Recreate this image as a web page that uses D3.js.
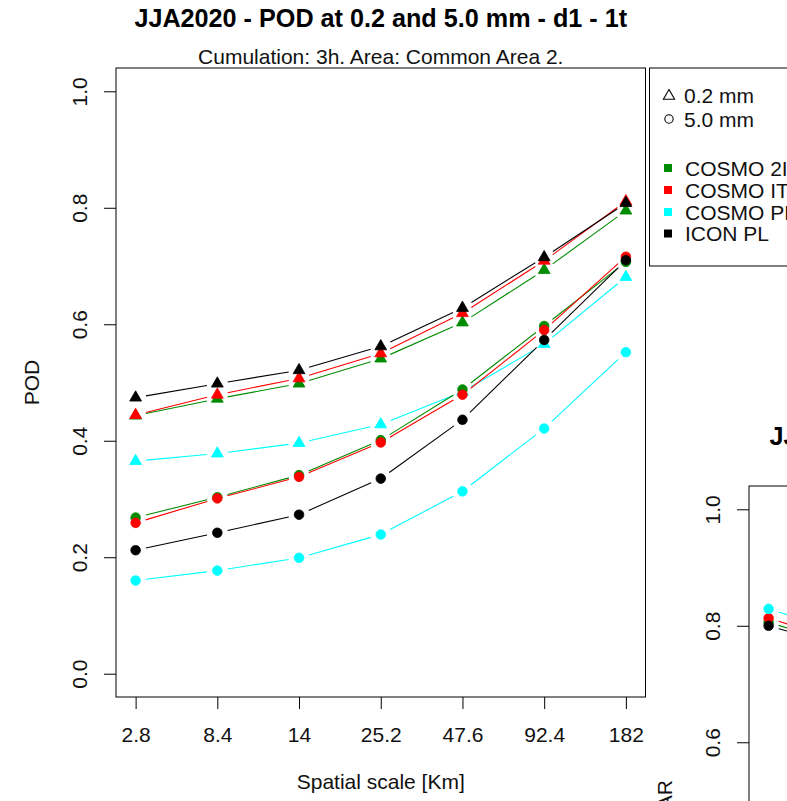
<!DOCTYPE html>
<html>
<head>
<meta charset="utf-8">
<script src="https://cdn.jsdelivr.net/npm/d3@7"></script>
<style>
  html, body { margin: 0; padding: 0; background: #fff; }
  svg { display: block; font-family: "Liberation Sans", Arial, Helvetica, sans-serif; }
</style>
</head>
<body>
<svg id="chart" width="787" height="801"></svg>
<script>
// Spatial scales (km) along the x axis
const scales = ["2.8", "8.4", "14", "25.2", "47.6", "92.4", "182"];
const yTicks = [0, 0.2, 0.4, 0.6, 0.8, 1.0];
const models = ["COSMO 2I", "COSMO IT", "COSMO PL", "ICON PL"];
const modelColors = ["#008B00", "#FF0000", "#00FFFF", "#000000"];
const thresholds = ["0.2 mm", "5.0 mm"];

// POD at 0.2 mm (triangles)
const pod02_cosmo2I = [0.443, 0.472, 0.498, 0.541, 0.603, 0.693, 0.795];
const pod02_cosmoIT = [0.444, 0.479, 0.507, 0.550, 0.619, 0.709, 0.811];
const pod02_cosmoPL = [0.365, 0.378, 0.396, 0.428, 0.484, 0.566, 0.681];
const pod02_iconPL  = [0.474, 0.498, 0.521, 0.562, 0.628, 0.715, 0.808];

// POD at 5.0 mm (circles)
const pod50_cosmo2I = [0.268, 0.303, 0.341, 0.401, 0.488, 0.597, 0.707];
const pod50_cosmoIT = [0.259, 0.301, 0.338, 0.397, 0.479, 0.590, 0.716];
const pod50_cosmoPL = [0.160, 0.177, 0.199, 0.239, 0.313, 0.421, 0.552];
const pod50_iconPL  = [0.212, 0.242, 0.273, 0.335, 0.436, 0.573, 0.710];

// FAR at 5.0 mm, first two scales (neighbouring panel)
const far50_cosmo2I = [0.806, 0.763];
const far50_cosmoIT = [0.813, 0.770];
const far50_cosmoPL = [0.829, 0.785];
const far50_iconPL  = [0.800, 0.760];
const farTicks = [0.6, 0.8, 1.0];

const svg = d3.select("#chart");
const PL = 116, PR = 645.5, PT = 68, PB = 697;
const FS = 21;             // base font size
const GAP = 10.5;          // gap left around each point by the connecting lines
const U = 4.4;             // symbol size unit

function trianglePath(cx, cy, u) {
  const r = 1.555 * u, hw = 1.347 * u, yc = 0.778 * u;
  return `M${cx},${cy - r}L${cx + hw},${cy + yc}L${cx - hw},${cy + yc}Z`;
}

function drawSeries(g, x, y, vals, color, shape) {
  const pts = vals.map((v, i) => [x(i), y(v)]);
  const segs = [];
  for (let i = 0; i < pts.length - 1; i++) {
    const [x0, y0] = pts[i], [x1, y1] = pts[i + 1];
    const dx = x1 - x0, dy = y1 - y0, L = Math.hypot(dx, dy);
    if (L > 2 * GAP) {
      const ux = dx / L, uy = dy / L;
      segs.push([x0 + ux * GAP, y0 + uy * GAP, x1 - ux * GAP, y1 - uy * GAP]);
    }
  }
  const s = g.append("g");
  s.selectAll("line").data(segs).join("line")
    .attr("x1", d => d[0]).attr("y1", d => d[1])
    .attr("x2", d => d[2]).attr("y2", d => d[3])
    .attr("stroke", color).attr("stroke-width", 1.1);
  if (shape === "tri") {
    s.selectAll("path").data(pts).join("path")
      .attr("d", d => trianglePath(d[0], d[1], U))
      .attr("fill", color).attr("stroke", color).attr("stroke-width", 0.8);
  } else {
    s.selectAll("circle").data(pts).join("circle")
      .attr("cx", d => d[0]).attr("cy", d => d[1]).attr("r", U + 0.4)
      .attr("fill", color).attr("stroke", color).attr("stroke-width", 0.8);
  }
}

function panel(ox, oy, opts) {
  const g = svg.append("g").attr("transform", `translate(${ox},${oy})`);
  const x = d3.scaleLinear().domain([-0.24, scales.length - 1 + 0.24]).range([PL, PR]);
  const y = d3.scaleLinear().domain([-0.04, 1.04]).range([PB, PT]);
  const cx = (PL + PR) / 2;

  g.append("text").attr("x", cx).attr("y", 27).attr("text-anchor", "middle")
    .attr("font-size", FS * 1.2).attr("font-weight", "bold").attr("fill", "#000").text(opts.title);
  if (opts.subtitle) {
    g.append("text").attr("x", cx).attr("y", 63.5).attr("text-anchor", "middle")
      .attr("font-size", FS).attr("fill", "#111").text(opts.subtitle);
  }

  // x axis
  if (opts.xAxis) {
    const xa = g.append("g").attr("transform", `translate(0,${PB})`)
      .call(d3.axisBottom(x).tickValues(d3.range(scales.length)).tickFormat(i => scales[i]).tickSize(12));
    xa.attr("font-size", null).attr("font-family", null);
    xa.select(".domain").remove();
    xa.selectAll(".tick line").attr("stroke", "#000").attr("stroke-width", 1);
    xa.selectAll(".tick text").attr("y", 45).attr("dy", null).attr("font-size", FS).attr("fill", "#111");
    g.append("text").attr("x", cx).attr("y", 789).attr("text-anchor", "middle")
      .attr("font-size", FS).attr("fill", "#111").text("Spatial scale [Km]");
  }

  // y axis
  const ya = g.append("g").attr("transform", `translate(${PL},0)`)
    .call(d3.axisLeft(y).tickValues(opts.yTicks).tickFormat(d3.format(".1f")).tickSize(12));
  ya.attr("font-size", null).attr("font-family", null);
  ya.select(".domain").remove();
  ya.selectAll(".tick line").attr("stroke", "#000").attr("stroke-width", 1);
  ya.selectAll(".tick text").attr("x", null).attr("dy", null)
    .attr("transform", "translate(-29,0) rotate(-90)")
    .attr("text-anchor", "middle").attr("font-size", FS).attr("fill", "#111");

  g.append("text").attr("transform", `translate(39,${(PT + PB) / 2}) rotate(-90)`)
    .attr("text-anchor", "middle").attr("font-size", FS).attr("fill", "#111").text(opts.ylabel);

  opts.tri.forEach((vals, k) => drawSeries(g, x, y, vals, modelColors[k], "tri"));
  opts.circ.forEach((vals, k) => drawSeries(g, x, y, vals, modelColors[k], "circ"));

  g.append("rect").attr("x", PL).attr("y", PT).attr("width", PR - PL).attr("height", PB - PT)
    .attr("fill", "none").attr("stroke", "#000").attr("stroke-width", 1);
  return g;
}

panel(0, 0, {
  title: "JJA2020 - POD at 0.2 and 5.0 mm - d1 - 1t",
  subtitle: "Cumulation: 3h. Area: Common Area 2.",
  ylabel: "POD", yTicks: yTicks, xAxis: true,
  tri: [pod02_cosmo2I, pod02_cosmoIT, pod02_cosmoPL, pod02_iconPL],
  circ: [pod50_cosmo2I, pod50_cosmoIT, pod50_cosmoPL, pod50_iconPL]
});

// Neighbouring FAR panel, only its top-left corner lies in view
panel(633, 418, {
  title: "JJA2020 - FAR at 0.2 and 5.0 mm - d1 - 1t",
  subtitle: null,
  ylabel: "FAR", yTicks: farTicks, xAxis: false,
  tri: [],
  circ: [far50_cosmo2I, far50_cosmoIT, far50_cosmoPL, far50_iconPL]
});

// Legend (outside the plot box, top right)
const lg = svg.append("g");
lg.append("rect").attr("x", 649.5).attr("y", 68).attr("width", 200).attr("height", 198)
  .attr("fill", "#fff").attr("stroke", "#000").attr("stroke-width", 1);
const shapeRows = [95, 119];
lg.append("path").attr("d", trianglePath(669, shapeRows[0] + 1, U * 0.95))
  .attr("fill", "none").attr("stroke", "#000").attr("stroke-width", 1.1);
lg.append("circle").attr("cx", 669).attr("cy", shapeRows[1]).attr("r", U * 0.95)
  .attr("fill", "none").attr("stroke", "#000").attr("stroke-width", 1.1);
lg.selectAll("text.thr").data(thresholds).join("text").attr("class", "thr")
  .attr("x", 684).attr("y", (d, i) => shapeRows[i] + 7.5).attr("font-size", FS).attr("fill", "#111").text(d => d);

const modelRows = [168, 190, 212, 233.5];
lg.selectAll("rect.key").data(models).join("rect").attr("class", "key")
  .attr("x", 664).attr("y", (d, i) => modelRows[i] - 4).attr("width", 8).attr("height", 8)
  .attr("fill", (d, i) => modelColors[i]);
lg.selectAll("text.mod").data(models).join("text").attr("class", "mod")
  .attr("x", 685).attr("y", (d, i) => modelRows[i] + 7.5).attr("font-size", FS).attr("fill", "#111").text(d => d);
</script>
</body>
</html>
